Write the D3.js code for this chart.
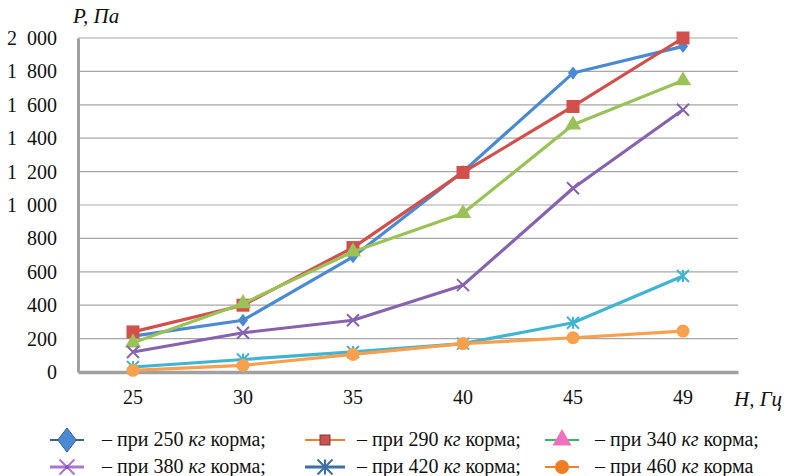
<!DOCTYPE html>
<html>
<head>
<meta charset="utf-8">
<script src="https://cdn.jsdelivr.net/npm/d3@7"></script>
<style>
  body { margin: 0; background: #fff; }
</style>
</head>
<body>
<div id="chart"></div>
<script>
// data
const freqs = ["25", "30", "35", "40", "45", "49"];
const yTicks = [0, 200, 400, 600, 800, 1000, 1200, 1400, 1600, 1800, 2000];
const p250 = [215, 310, 690, 1200, 1790, 1950];
const p290 = [240, 400, 745, 1195, 1590, 2000];
const p340 = [175, 410, 720, 950, 1480, 1745];
const p380 = [120, 235, 310, 520, 1100, 1570];
const p420 = [30, 75, 120, 170, 295, 575];
const p460 = [10, 40, 105, 170, 205, 245];
const feedMass = ["250", "290", "340", "380", "420", "460"];

const series = [
  { values: p250, color: "#4a8ad3", mark: "diamond" },
  { values: p290, color: "#d2504b", mark: "square" },
  { values: p340, color: "#9bc258", mark: "triangle" },
  { values: p380, color: "#8763ae", mark: "x" },
  { values: p420, color: "#40b4d2", mark: "star" },
  { values: p460, color: "#f7a04d", mark: "circle" }
];

// legend swatches are drawn differently from the plot lines
const legendStyle = [
  { line: "#3d6189", fill: "#4a8ad3", mark: "diamond" },
  { line: "#f08030", fill: "#c9534e", mark: "square" },
  { line: "#2fbf5f", fill: "#f070c0", mark: "triangle" },
  { line: "#a678cf", fill: "#8c4fc0", mark: "x" },
  { line: "#3d6ea8", fill: "#3d6ea8", mark: "star" },
  { line: "#f08030", fill: "#ef7d22", mark: "circle" }
];

const width = 790, height = 476;
const margin = { left: 78, right: 52, top: 38, bottom: 104 };
const serif = "Liberation Serif";

const svg = d3.select("#chart").append("svg")
  .attr("width", width)
  .attr("height", height)
  .attr("font-family", serif);

const x = d3.scaleBand().domain(freqs)
  .range([margin.left, width - margin.right]);
const y = d3.scaleLinear().domain([0, 2000])
  .range([height - margin.bottom, margin.top]);

const fmt = v => d3.format(",")(v).replace(",", "\u2007");

// grid
svg.append("g")
  .selectAll("line")
  .data(yTicks.filter(d => d > 0))
  .join("line")
  .attr("x1", margin.left).attr("x2", width - margin.right)
  .attr("y1", d => y(d)).attr("y2", d => y(d))
  .attr("stroke", "#a6a6a6").attr("stroke-width", 1.2);

// axes
const yAxis = svg.append("g")
  .attr("transform", `translate(${margin.left},0)`)
  .call(d3.axisLeft(y).tickValues(yTicks).tickFormat(fmt).tickSize(0).tickPadding(21))
  .attr("font-family", serif).attr("font-size", 20);
yAxis.select(".domain").attr("stroke", "#a0a0a0").attr("stroke-width", 3);
yAxis.selectAll("text").attr("font-family", serif).attr("fill", "#111");

const xAxis = svg.append("g")
  .attr("transform", `translate(0,${y(0)})`)
  .call(d3.axisBottom(x).tickSize(0).tickPadding(18))
  .attr("font-family", serif).attr("font-size", 20);
xAxis.select(".domain").attr("stroke", "#a0a0a0").attr("stroke-width", 3.5);
xAxis.selectAll("text").attr("font-family", serif).attr("fill", "#111");

// axis titles
svg.append("text").attr("x", 73).attr("y", 23)
  .attr("font-size", 21).attr("font-style", "italic").attr("font-family", serif)
  .attr("fill", "#111")
  .text("P, Па");

svg.append("text").attr("x", 734).attr("y", 406)
  .attr("font-size", 21).attr("font-style", "italic").attr("font-family", serif)
  .attr("fill", "#111")
  .text("H, Гц");

// marker shapes
function marker(g, type, cx, cy, s, fill, stroke) {
  if (type === "diamond") {
    const w = s * 0.42, h = s * 0.55;
    g.append("path").attr("d", `M${cx},${cy - h}L${cx + w},${cy}L${cx},${cy + h}L${cx - w},${cy}Z`)
      .attr("fill", fill).attr("stroke", stroke);
  } else if (type === "square") {
    g.append("rect").attr("x", cx - s / 2).attr("y", cy - s / 2)
      .attr("width", s).attr("height", s).attr("fill", fill).attr("stroke", stroke);
  } else if (type === "triangle") {
    g.append("path").attr("d", d3.symbol(d3.symbolTriangle, s * s * 0.8)())
      .attr("transform", `translate(${cx},${cy})`).attr("fill", fill).attr("stroke", stroke);
  } else if (type === "circle") {
    g.append("circle").attr("cx", cx).attr("cy", cy).attr("r", s / 2)
      .attr("fill", fill).attr("stroke", stroke);
  } else if (type === "x") {
    const r = s / 2;
    g.append("path")
      .attr("d", `M${cx - r},${cy - r}L${cx + r},${cy + r}M${cx - r},${cy + r}L${cx + r},${cy - r}`)
      .attr("stroke", fill).attr("stroke-width", 2).attr("fill", "none");
  } else if (type === "star") {
    const r = s / 2;
    g.append("path")
      .attr("d", `M${cx - r},${cy - r}L${cx + r},${cy + r}M${cx - r},${cy + r}L${cx + r},${cy - r}M${cx},${cy - r}L${cx},${cy + r}`)
      .attr("stroke", fill).attr("stroke-width", 2).attr("fill", "none");
  }
}

// lines
const line = d3.line()
  .x((d, i) => x(freqs[i]) + x.bandwidth() / 2)
  .y(d => y(d));

series.forEach(s => {
  const g = svg.append("g");
  g.append("path").datum(s.values)
    .attr("d", line)
    .attr("fill", "none")
    .attr("stroke", s.color)
    .attr("stroke-width", 3.2)
    .attr("stroke-linejoin", "round");
  s.values.forEach((v, i) => {
    const cx = x(freqs[i]) + x.bandwidth() / 2;
    const size = s.mark === "circle" ? 13 : s.mark === "square" ? 13 : 12;
    marker(g, s.mark, cx, y(v), size, s.color, "none");
  });
});

// legend
const legendCols = [50, 305, 545];
const legendRows = [440, 467];
const legend = svg.append("g");
legendStyle.forEach((ls, i) => {
  const col = i % 3, row = Math.floor(i / 3);
  const lx = legendCols[col], ly = legendRows[row];
  const g = legend.append("g");
  g.append("line").attr("x1", lx).attr("x2", lx + 34 + (col === 1 ? 6 : 0))
    .attr("y1", ly).attr("y2", ly)
    .attr("stroke", ls.line).attr("stroke-width", ls.mark === "x" || ls.mark === "star" ? 3 : 2);
  const mx = lx + (col === 1 ? 20 : 17);
  if (ls.mark === "x" || ls.mark === "star") {
    marker(g, ls.mark, mx, ly, 15, ls.line, "none");
    if (ls.mark === "x") g.append("circle").attr("cx", mx).attr("cy", ly).attr("r", 2).attr("fill", ls.fill);
  } else if (ls.mark === "square") {
    marker(g, ls.mark, mx, ly, 10, ls.fill, "#7a3a3a");
  } else if (ls.mark === "diamond") {
    marker(g, ls.mark, mx, ly, 22, ls.fill, ls.line);
  } else {
    marker(g, ls.mark, mx, ly, 14, ls.fill, "none");
  }
  const t = g.append("text")
    .attr("x", lx + (col === 0 ? 52 : col === 1 ? 52 : 50))
    .attr("y", ly + 6)
    .attr("font-size", 20)
    .attr("font-family", serif)
    .attr("fill", "#111");
  t.append("tspan").text(`– при ${feedMass[i]} `);
  t.append("tspan").attr("font-style", "italic").text("кг");
  t.append("tspan").text(i === 5 ? " корма" : " корма;");
});
</script>
</body>
</html>
